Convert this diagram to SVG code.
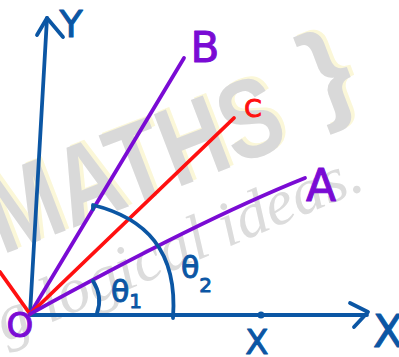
<svg xmlns="http://www.w3.org/2000/svg" width="399" height="357" viewBox="0 0 399 357">
<style>
.bl{stroke:#0b56a4;stroke-width:3.8;fill:none;stroke-linecap:round;stroke-linejoin:round}
.pu{stroke:#7a0bd4;stroke-width:3.8;fill:none;stroke-linecap:round}
.rd{stroke:#ff1010;stroke-width:3.8;fill:none;stroke-linecap:round}
.lab{font-family:"DejaVu Sans",sans-serif;stroke-width:1;stroke-linejoin:round}
.wm{font-family:"Liberation Sans",sans-serif;font-weight:bold;font-size:112px}
.wi{font-family:"Liberation Serif",serif;font-style:italic;font-size:64px;fill:#dcdcdc}
</style>
<rect width="399" height="357" fill="#ffffff"/>
<g id="watermark">
<g transform="translate(2,255) rotate(-21)">
<text class="wm" x="4" y="-1" fill="#fbf7d8" textLength="310" lengthAdjust="spacingAndGlyphs">MATHS</text>
<text class="wm" x="0" y="0" fill="#d9d9d9" textLength="310" lengthAdjust="spacingAndGlyphs">MATHS</text>
</g>
<g transform="translate(320,114) rotate(-21)">
<text class="wm" x="4" y="-1" fill="#fbf7d8">}</text>
<text class="wm" x="0" y="0" fill="#d9d9d9">}</text>
</g>
<g transform="translate(5,342) rotate(-23)">
<text class="wi" x="0" y="0">g logical ideas.</text>
</g>
</g>
<g id="connectors">
<path class="bl" d="M30,315 L367,315"/>
<path class="bl" d="M350,303 L368,312 L354,327"/>
<path class="bl" d="M30,314 L47,18"/>
<path class="bl" d="M37,35 L47,18 L63,37"/>
<path class="pu" d="M30,314 L184,58"/>
<path class="rd" d="M30,314 L234,118"/>
<path class="rd" d="M0,272 L30,314"/>
<path class="pu" d="M30,314 Q200,220 305,178"/>
<path class="bl" d="M93,209 L93,205 C145,218 178,250 173,318"/>
<path class="bl" d="M93,281 Q103,297 97,313"/>
<circle cx="261" cy="315" r="3.5" fill="#0b56a4"/>
</g>
<g id="node-Y"><text class="lab" x="71" y="37" font-size="38" fill="#0b56a4" stroke="#0b56a4" text-anchor="middle">Y</text></g>
<g id="node-B"><text class="lab" x="205" y="62" font-size="42" fill="#7a0bd4" stroke="#7a0bd4" text-anchor="middle">B</text></g>
<g id="node-C"><text class="lab" x="253" y="117" font-size="25" fill="#ff1010" stroke="#ff1010" text-anchor="middle">C</text></g>
<g id="node-A"><text class="lab" x="321" y="201" font-size="44" fill="#7a0bd4" stroke="#7a0bd4" text-anchor="middle">A</text></g>
<g id="node-O"><text class="lab" x="20" y="337" font-size="34" fill="#7a0bd4" stroke="#7a0bd4" text-anchor="middle">O</text></g>
<g id="node-X"><text class="lab" x="388" y="347" font-size="44" fill="#0b56a4" stroke="#0b56a4" text-anchor="middle">X</text></g>
<g id="node-x"><text class="lab" x="257" y="354" font-size="34" fill="#0b56a4" stroke="#0b56a4" text-anchor="middle">X</text></g>
<g id="theta1"><text class="lab" x="111" y="302" font-size="30" fill="#0b56a4" stroke="#0b56a4">θ<tspan font-size="20" dy="6">1</tspan></text></g>
<g id="theta2"><text class="lab" x="181" y="278" font-size="30" fill="#0b56a4" stroke="#0b56a4">θ<tspan font-size="20" dy="14">2</tspan></text></g>
</svg>
